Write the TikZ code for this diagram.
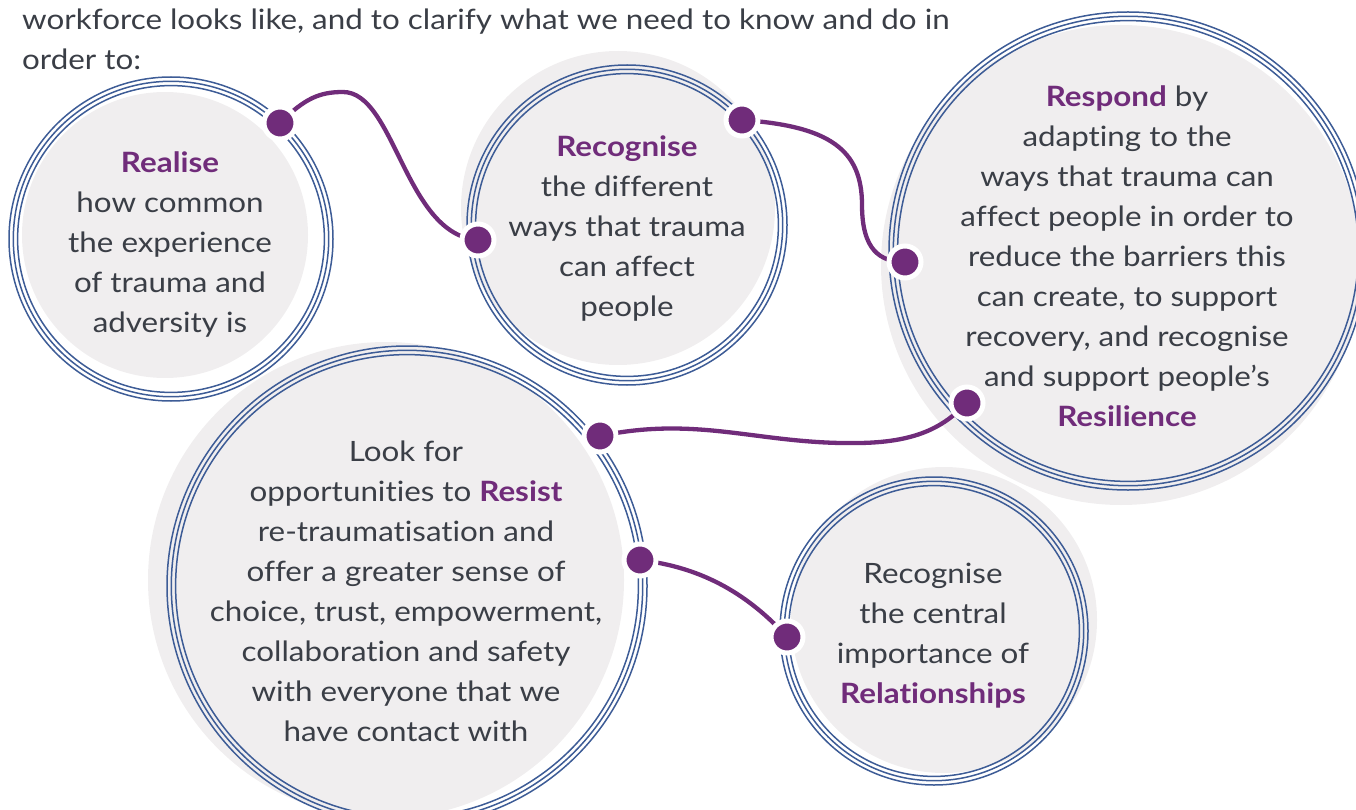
\documentclass[tikz,border=0pt]{standalone}
\usepackage{fontspec}
\setmainfont{Lato}[FakeStretch=1.12, Ligatures=NoCommon]
\usetikzlibrary{positioning}
\definecolor{ringblue}{RGB}{61,92,150}
\definecolor{purp}{RGB}{112,44,122}
\definecolor{discgrey}{RGB}{240,238,239}
\definecolor{ink}{RGB}{58,62,70}
\newcommand{\hl}[1]{\textcolor{purp}{\textbf{#1}}}

\begin{document}
\begin{tikzpicture}[x=1pt, y=-1pt,
  ring/.style={draw=ringblue, line width=1.5pt},
  txt/.style={align=center, text=ink, inner sep=0pt, font=\fontsize{28}{40}\selectfont},
  intro/.style={text=ink, anchor=base west, inner sep=0pt, font=\fontsize{28}{40}\selectfont},
  dot/.style={circle, fill=purp, draw=white, line width=5pt, minimum size=32pt, inner sep=0pt},
  link/.style={draw=purp, line width=4.3pt}]

\useasboundingbox (0,0) rectangle (1356,810);
\clip (0,0) rectangle (1356,810);

% intro text
\node[intro] (intro1) at (22,30)
  {workforce looks like, and to clarify what we need to know and do in};
\node[intro] (intro2) at (22,70) {order to:};

% grey discs
\fill[discgrey] (165,235) circle (143);
\fill[discgrey] (618,208) circle (157);
\fill[discgrey] (1121,265) circle (240);
\fill[discgrey] (386,580) circle (238);
\fill[discgrey] (944,620) circle (153);

% triple rings
\foreach \k in {0,4.3,8.6} {
  \draw[ring] (171,239)  circle (162-\k);
  \draw[ring] (627,225)  circle (160-\k);
  \draw[ring] (1128,251) circle (239-\k);
  \draw[ring] (407,586)  circle (240-\k);
  \draw[ring] (934,631)  circle (154-\k);
}

% texts
\node[txt] (realise) at (170,244)
  {\hl{Realise}\\how common\\the experience\\of trauma and\\adversity is};
\node[txt] (recognise) at (627,229)
  {\hl{Recognise}\\the different\\ways that trauma\\can affect\\people};
\node[txt] (respond) at (1127,256)
  {\hl{Respond} by\\adapting to the\\ways that trauma can\\affect people in order to\\reduce the barriers this\\can create, to support\\recovery, and recognise\\and support people’s\\\hl{Resilience}};
\node[txt] (resist) at (406,591)
  {Look for\\opportunities to \hl{Resist}\\re-traumatisation and\\offer a greater sense of\\choice, trust, empowerment,\\collaboration and safety\\with everyone that we\\have contact with};
\node[txt] (relate) at (933,636)
  {Recognise\\the central\\importance of\\\hl{Relationships}};

% link ends
\coordinate (realise-out)   at (280,123);
\coordinate (recognise-in)  at (478,240);
\coordinate (recognise-out) at (742,120);
\coordinate (respond-in)    at (905,262);
\coordinate (respond-out)   at (967,403);
\coordinate (resist-in)     at (600,436);
\coordinate (resist-out)    at (640,560);
\coordinate (relate-in)     at (787,637);

% links
\draw[link] (realise-out) .. controls (305,98) and (320,92) .. (343,92)
  .. controls (395,92) and (405,235) .. (recognise-in);
\draw[link] (recognise-out) .. controls (830,126) and (862,150) .. (862,205)
  .. controls (862,250) and (880,262) .. (respond-in);
\draw[link] (resist-in) .. controls (700,415) and (760,445) .. (860,443)
  .. controls (920,442) and (945,425) .. (respond-out);
\draw[link] (resist-out) .. controls (690,566) and (740,585) .. (relate-in);

% dots
\foreach \p in {realise-out,recognise-in,recognise-out,respond-in,
                respond-out,resist-in,resist-out,relate-in}
  \node[dot] at (\p) {};

\end{tikzpicture}
\end{document}
